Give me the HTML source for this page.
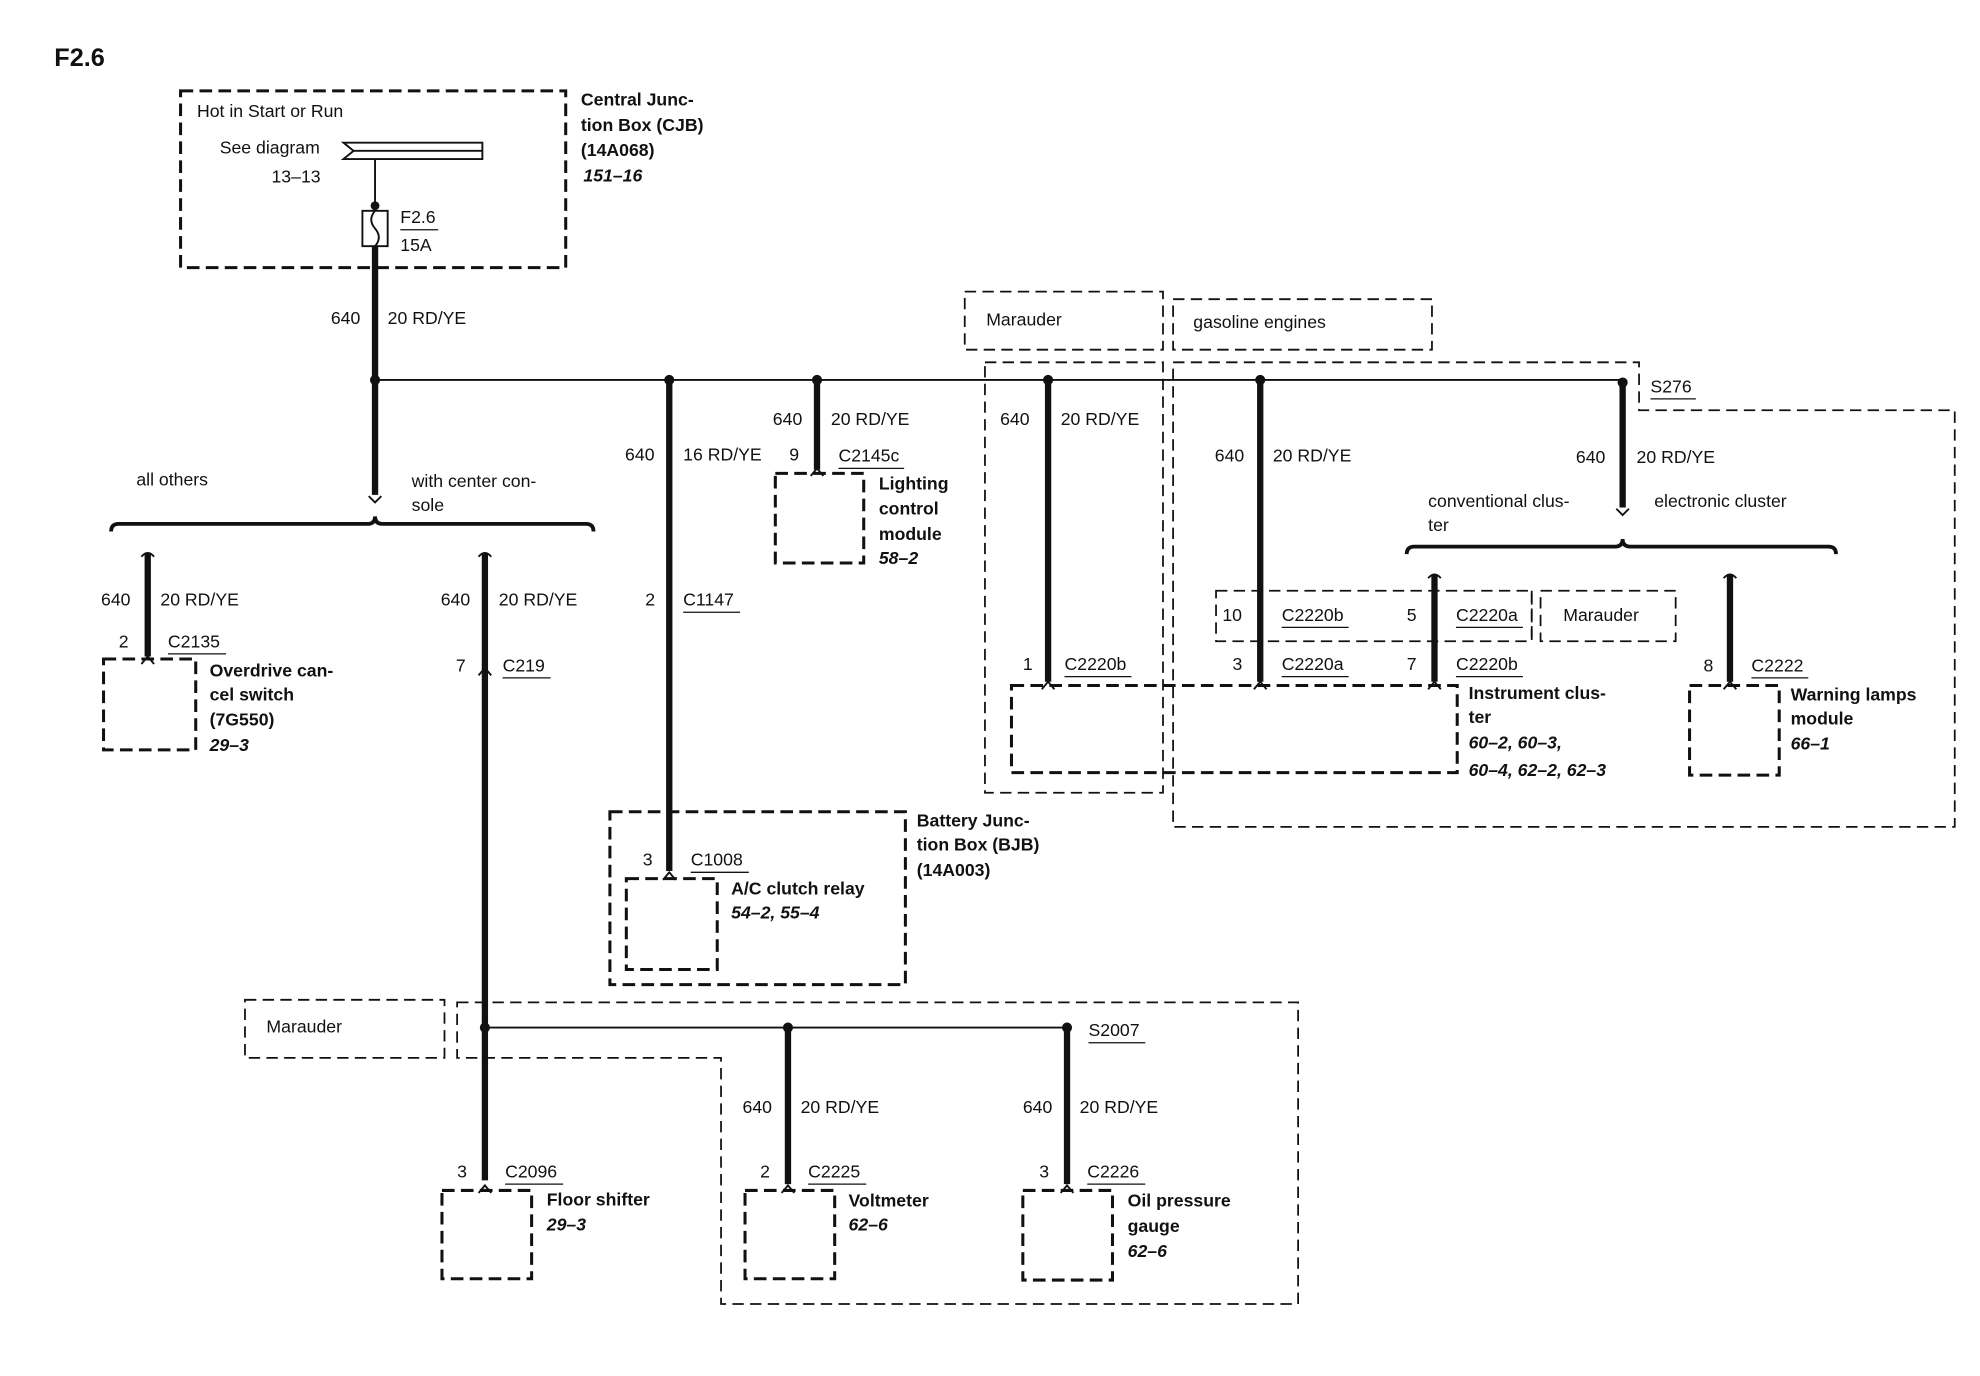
<!DOCTYPE html>
<html><head><meta charset="utf-8"><style>
html,body{margin:0;padding:0;background:#fff}
svg{display:block}
text{font-family:"Liberation Sans",sans-serif;font-size:14px;fill:#111;dominant-baseline:central}
.b{font-weight:bold}
.i{font-weight:bold;font-style:italic}
.d{fill:none;stroke:#111;stroke-width:2.4;stroke-dasharray:10 5}
.dt{fill:none;stroke:#111;stroke-width:1.4;stroke-dasharray:9 5}
.w{stroke:#111;stroke-width:5;fill:none}
.t{stroke:#111;stroke-width:1.5;fill:none}
.u{stroke:#111;stroke-width:1}
</style></head><body>
<svg width="1980" height="1376" viewBox="0 0 1568 1090" preserveAspectRatio="none" xmlns="http://www.w3.org/2000/svg">
<text x="43" y="46" class="b" style="font-size:20px">F2.6</text>

<!-- CJB -->
<rect x="143" y="72" width="305" height="140" class="d"/>
<text x="156" y="88">Hot in Start or Run</text>
<text x="174" y="117">See diagram</text>
<path d="M272,113 L382,113 L382,126 L272,126 L280,119.5 Z" fill="#fff" stroke="#111" stroke-width="1.5"/>
<line x1="280" y1="119.5" x2="382" y2="119.5" class="t"/>
<text x="215" y="140">13–13</text>
<line x1="297" y1="126" x2="297" y2="167" class="t"/>
<circle cx="297" cy="163" r="3.5" fill="#111"/>
<rect x="287" y="167" width="20" height="28" fill="none" stroke="#111" stroke-width="1.5"/>
<path d="M297,167 q-6,7 0,14 q6,7 0,14" class="t"/>
<text x="317" y="172">F2.6</text><line x1="317" y1="182" x2="347" y2="182" class="u"/>
<text x="317" y="194">15A</text>
<text x="460" y="79" class="b">Central Junc-</text>
<text x="460" y="99" class="b">tion Box (CJB)</text>
<text x="460" y="119" class="b">(14A068)</text>
<text x="462" y="139" class="i">151–16</text>

<line x1="297" y1="195" x2="297" y2="392" class="w"/>
<path d="M292,393 l5,5 l5,-5" class="t"/>
<text x="262" y="252">640</text><text x="307" y="252">20 RD/YE</text>

<!-- main bus -->
<line x1="297" y1="301" x2="1285" y2="301" class="t"/>
<g fill="#111"><circle cx="297" cy="301" r="4"/><circle cx="530" cy="301" r="4"/><circle cx="647" cy="301" r="4"/><circle cx="830" cy="301" r="4"/><circle cx="998" cy="301" r="4"/><circle cx="1285" cy="303" r="4"/></g>

<text x="108" y="380">all others</text>
<text x="326" y="381">with center con-</text>
<text x="326" y="400">sole</text>
<path d="M88,421 q0,-6 6,-6 L291,415 q6,0 6,-6 q0,6 6,6 L464,415 q6,0 6,6" stroke="#111" stroke-width="3" fill="none"/>

<!-- overdrive -->
<path d="M112,441 q5,-6 10,0" class="t"/>
<line x1="117" y1="438" x2="117" y2="520" class="w"/>
<path d="M112,526 l5,-6 l5,6" class="t"/>
<text x="80" y="475">640</text><text x="127" y="475">20 RD/YE</text>
<text x="94" y="508">2</text><text x="133" y="508">C2135</text><line x1="133" y1="518" x2="179" y2="518" class="u"/>
<rect x="82" y="522" width="73" height="72" class="d"/>
<text x="166" y="531" class="b">Overdrive can-</text>
<text x="166" y="550" class="b">cel switch</text>
<text x="166" y="570" class="b">(7G550)</text>
<text x="166" y="590" class="i">29–3</text>

<!-- center console wire -->
<path d="M379,441 q5,-6 10,0" class="t"/>
<line x1="384" y1="438" x2="384" y2="935" class="w"/>
<text x="349" y="475">640</text><text x="395" y="475">20 RD/YE</text>
<text x="361" y="527">7</text><text x="398" y="527">C219</text><line x1="398" y1="537" x2="436" y2="537" class="u"/>
<path d="M379,535 l5,-6 l5,6" class="t" stroke="#fff"/>

<!-- 530 wire -->
<line x1="530" y1="301" x2="530" y2="690" class="w"/>
<text x="495" y="360">640</text><text x="541" y="360">16 RD/YE</text>
<text x="511" y="475">2</text><text x="541" y="475">C1147</text><line x1="541" y1="485" x2="586" y2="485" class="u"/>
<rect x="483" y="643" width="234" height="137" class="d"/>
<text x="726" y="650" class="b">Battery Junc-</text>
<text x="726" y="669" class="b">tion Box (BJB)</text>
<text x="726" y="689" class="b">(14A003)</text>
<text x="509" y="681">3</text><text x="547" y="681">C1008</text><line x1="547" y1="691" x2="593" y2="691" class="u"/>
<path d="M525,697 l5,-6 l5,6" class="t"/>
<rect x="496" y="696" width="72" height="72" class="d"/>
<text x="579" y="704" class="b">A/C clutch relay</text>
<text x="579" y="723" class="i">54–2, 55–4</text>

<!-- lighting -->
<line x1="647" y1="301" x2="647" y2="372" class="w"/>
<text x="612" y="332">640</text><text x="658" y="332">20 RD/YE</text>
<text x="625" y="360">9</text><text x="664" y="361">C2145c</text><line x1="664" y1="371" x2="716" y2="371" class="u"/>
<path d="M642,377 l5,-6 l5,6" class="t"/>
<rect x="614" y="375" width="70" height="71" class="d"/>
<text x="696" y="383" class="b">Lighting</text>
<text x="696" y="403" class="b">control</text>
<text x="696" y="423" class="b">module</text>
<text x="696" y="442" class="i">58–2</text>

<!-- option boxes -->
<rect x="764" y="231" width="157" height="46" class="dt"/>
<text x="781" y="253">Marauder</text>
<rect x="929" y="237" width="205" height="40" class="dt"/>
<text x="945" y="255">gasoline engines</text>
<rect x="780" y="287" width="141" height="341" class="dt"/>
<path d="M929,287 L1298,287 L1298,325 L1548,325 L1548,655 L929,655 Z" class="dt"/>

<!-- 830 -->
<line x1="830" y1="301" x2="830" y2="540" class="w"/>
<text x="792" y="332">640</text><text x="840" y="332">20 RD/YE</text>
<text x="810" y="526">1</text><text x="843" y="526">C2220b</text><line x1="843" y1="536" x2="896" y2="536" class="u"/>
<path d="M825,546 l5,-6 l5,6" class="t"/>

<!-- 998 -->
<line x1="998" y1="301" x2="998" y2="540" class="w"/>
<text x="962" y="361">640</text><text x="1008" y="361">20 RD/YE</text>
<rect x="963" y="468" width="250" height="40" class="dt"/>
<line x1="1213" y1="468" x2="1213" y2="508" class="dt"/>
<text x="968" y="487">10</text><text x="1015" y="487">C2220b</text><line x1="1015" y1="497" x2="1068" y2="497" class="u"/>
<text x="1114" y="487">5</text><text x="1153" y="487">C2220a</text><line x1="1153" y1="497" x2="1206" y2="497" class="u"/>
<rect x="1220" y="468" width="107" height="40" class="dt"/>
<text x="1238" y="487">Marauder</text>
<text x="976" y="526">3</text><text x="1015" y="526">C2220a</text><line x1="1015" y1="536" x2="1068" y2="536" class="u"/>
<path d="M993,546 l5,-6 l5,6" class="t"/>

<!-- 1136 -->
<path d="M1131,458 q5,-6 10,0" class="t"/>
<line x1="1136" y1="455" x2="1136" y2="540" class="w"/>
<text x="1114" y="526">7</text><text x="1153" y="526">C2220b</text><line x1="1153" y1="536" x2="1206" y2="536" class="u"/>
<path d="M1131,546 l5,-6 l5,6" class="t"/>
<rect x="801" y="543" width="353" height="69" class="d"/>
<text x="1163" y="549" class="b">Instrument clus-</text>
<text x="1163" y="568" class="b">ter</text>
<text x="1163" y="588" class="i">60–2, 60–3,</text>
<text x="1163" y="610" class="i">60–4, 62–2, 62–3</text>

<!-- 1285 -->
<line x1="1285" y1="303" x2="1285" y2="402" class="w"/>
<path d="M1280,403 l5,5 l5,-5" class="t"/>
<text x="1307" y="306">S276</text><line x1="1307" y1="316" x2="1343" y2="316" class="u"/>
<text x="1248" y="362">640</text><text x="1296" y="362">20 RD/YE</text>
<text x="1131" y="397">conventional clus-</text>
<text x="1131" y="416">ter</text>
<text x="1310" y="397">electronic cluster</text>
<path d="M1114,439 q0,-6 6,-6 L1279,433 q6,0 6,-6 q0,6 6,6 L1448,433 q6,0 6,6" stroke="#111" stroke-width="3" fill="none"/>

<!-- 1370 -->
<path d="M1365,458 q5,-6 10,0" class="t"/>
<line x1="1370" y1="455" x2="1370" y2="540" class="w"/>
<text x="1349" y="527">8</text><text x="1387" y="527">C2222</text><line x1="1387" y1="537" x2="1432" y2="537" class="u"/>
<path d="M1365,546 l5,-6 l5,6" class="t"/>
<rect x="1338" y="543" width="71" height="71" class="d"/>
<text x="1418" y="550" class="b">Warning lamps</text>
<text x="1418" y="569" class="b">module</text>
<text x="1418" y="589" class="i">66–1</text>

<!-- bottom -->
<rect x="194" y="792" width="158" height="46" class="dt"/>
<text x="211" y="813">Marauder</text>
<path d="M362,794 L1028,794 L1028,1033 L571,1033 L571,838 L362,838 Z" class="dt"/>
<line x1="384" y1="814" x2="845" y2="814" class="t"/>
<g fill="#111"><circle cx="384" cy="814" r="4"/><circle cx="624" cy="814" r="4"/><circle cx="845" cy="814" r="4"/></g>
<text x="862" y="816">S2007</text><line x1="862" y1="826" x2="907" y2="826" class="u"/>

<line x1="624" y1="814" x2="624" y2="938" class="w"/>
<text x="588" y="877">640</text><text x="634" y="877">20 RD/YE</text>
<text x="602" y="928">2</text><text x="640" y="928">C2225</text><line x1="640" y1="938" x2="686" y2="938" class="u"/>
<path d="M619,945 l5,-6 l5,6" class="t"/>
<rect x="590" y="943" width="71" height="70" class="d"/>
<text x="672" y="951" class="b">Voltmeter</text>
<text x="672" y="970" class="i">62–6</text>

<line x1="845" y1="814" x2="845" y2="938" class="w"/>
<text x="810" y="877">640</text><text x="855" y="877">20 RD/YE</text>
<text x="823" y="928">3</text><text x="861" y="928">C2226</text><line x1="861" y1="938" x2="907" y2="938" class="u"/>
<path d="M840,945 l5,-6 l5,6" class="t"/>
<rect x="810" y="943" width="71" height="71" class="d"/>
<text x="893" y="951" class="b">Oil pressure</text>
<text x="893" y="971" class="b">gauge</text>
<text x="893" y="991" class="i">62–6</text>

<text x="362" y="928">3</text><text x="400" y="928">C2096</text><line x1="400" y1="938" x2="446" y2="938" class="u"/>
<path d="M379,945 l5,-6 l5,6" class="t"/>
<rect x="350" y="943" width="71" height="70" class="d"/>
<text x="433" y="950" class="b">Floor shifter</text>
<text x="433" y="970" class="i">29–3</text>
</svg>
</body></html>
